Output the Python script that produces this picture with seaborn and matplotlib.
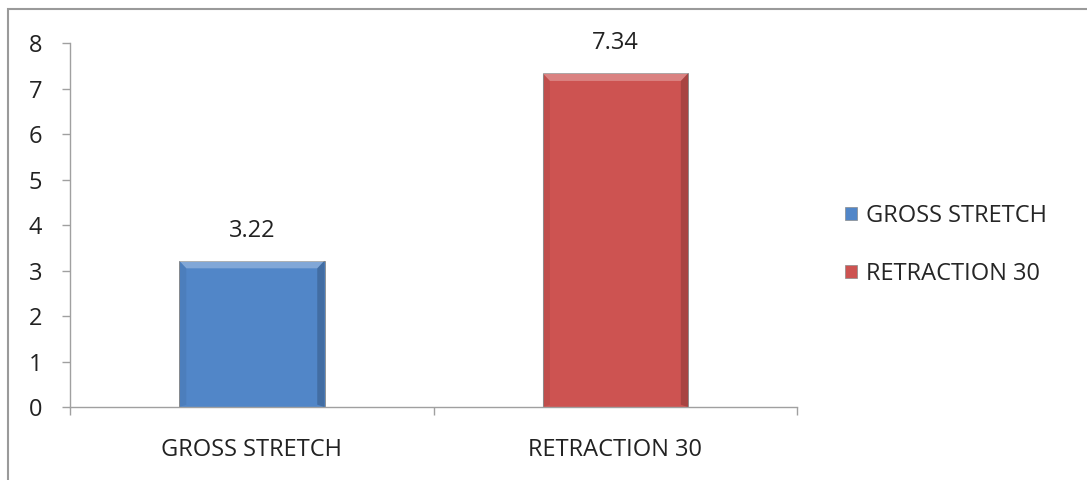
import matplotlib
matplotlib.use("Agg")
import matplotlib.pyplot as plt
import matplotlib.patches as mpatches
import seaborn as sns
import pandas as pd

categories = ["GROSS STRETCH", "RETRACTION 30"]
values = [3.22, 7.34]
colors = ["#5186C8", "#CD5351"]
yticks = [0, 1, 2, 3, 4, 5, 6, 7, 8]

sns.set_theme(style="white")
plt.rcParams["font.family"] = ["Open Sans", "DejaVu Sans"]

df = pd.DataFrame({"category": categories, "value": values})

fig = plt.figure(figsize=(10.87, 4.8), dpi=100)
ax = fig.add_axes([0.0644, 0.152, 0.669, 0.758])

sns.barplot(data=df, x="category", y="value", hue="category",
            palette=colors, saturation=1, width=0.4, dodge=False, legend=False,
            ax=ax, edgecolor="#8a8a8a", linewidth=0.6)

ax.set_ylim(0, 8)
ax.set_xlim(-0.5, 1.5)

# bevel shading on the bar edges, sized from each bar's own extent
bx = 0.02   # bevel depth along x (data units)
by = 0.17   # bevel depth along y (data units)
for bar in list(ax.patches):
    x0, w, h = bar.get_x(), bar.get_width(), bar.get_height()
    x1 = x0 + w
    top = [(x0, h), (x1, h), (x1 - bx, h - by), (x0 + bx, h - by)]
    right = [(x1, h), (x1, 0), (x1 - bx, by * 0.3), (x1 - bx, h - by)]
    left = [(x0, h), (x0, 0), (x0 + bx, by * 0.3), (x0 + bx, h - by)]
    ax.add_patch(mpatches.Polygon(top, closed=True, facecolor="white", alpha=0.28,
                                  edgecolor="none", zorder=3))
    ax.add_patch(mpatches.Polygon(right, closed=True, facecolor="black", alpha=0.18,
                                  edgecolor="none", zorder=3))
    ax.add_patch(mpatches.Polygon(left, closed=True, facecolor="black", alpha=0.06,
                                  edgecolor="none", zorder=3))

for bar, v in zip(ax.patches[:len(values)], values):
    ax.annotate(f"{v:.2f}", (bar.get_x() + bar.get_width() / 2, bar.get_height()),
                xytext=(0, 13), textcoords="offset points",
                ha="center", va="bottom", fontsize=17, color="#222222")

ax.set_yticks(yticks)
ax.set_yticklabels([str(t) for t in yticks], fontsize=17, color="#222222")
ax.set_xticks([0, 1])
ax.set_xticklabels(categories, fontsize=17, color="#222222")
ax.set_xlabel("")
ax.set_ylabel("")

for s in ["top", "right"]:
    ax.spines[s].set_visible(False)
for s in ["left", "bottom"]:
    ax.spines[s].set_color("#a0a0a0")
    ax.spines[s].set_linewidth(1.0)

ax.tick_params(axis="y", which="both", left=True, length=6, width=1.0,
               color="#a0a0a0", pad=14)
ax.tick_params(axis="x", which="major", bottom=False, pad=16)
# category boundary ticks along the x axis
ax.set_xticks([-0.5, 0.5, 1.5], minor=True)
ax.tick_params(axis="x", which="minor", bottom=True, length=6, width=1.0,
               color="#a0a0a0")

handles = [mpatches.Patch(facecolor=c, edgecolor="#8a8a8a", linewidth=0.5) for c in colors]
fig.legend(handles, categories, loc="center left", bbox_to_anchor=(0.758, 0.49),
           frameon=False, fontsize=17, handlelength=0.5, handleheight=0.5,
           handletextpad=0.4, labelspacing=1.45)

# outer chart frame
fig.patches.append(mpatches.Rectangle((0.0074, -0.05), 1.05, 1.031, transform=fig.transFigure,
                                      fill=False, edgecolor="#9a9a9a", linewidth=1.5))

fig.savefig("out.png", dpi=100)
